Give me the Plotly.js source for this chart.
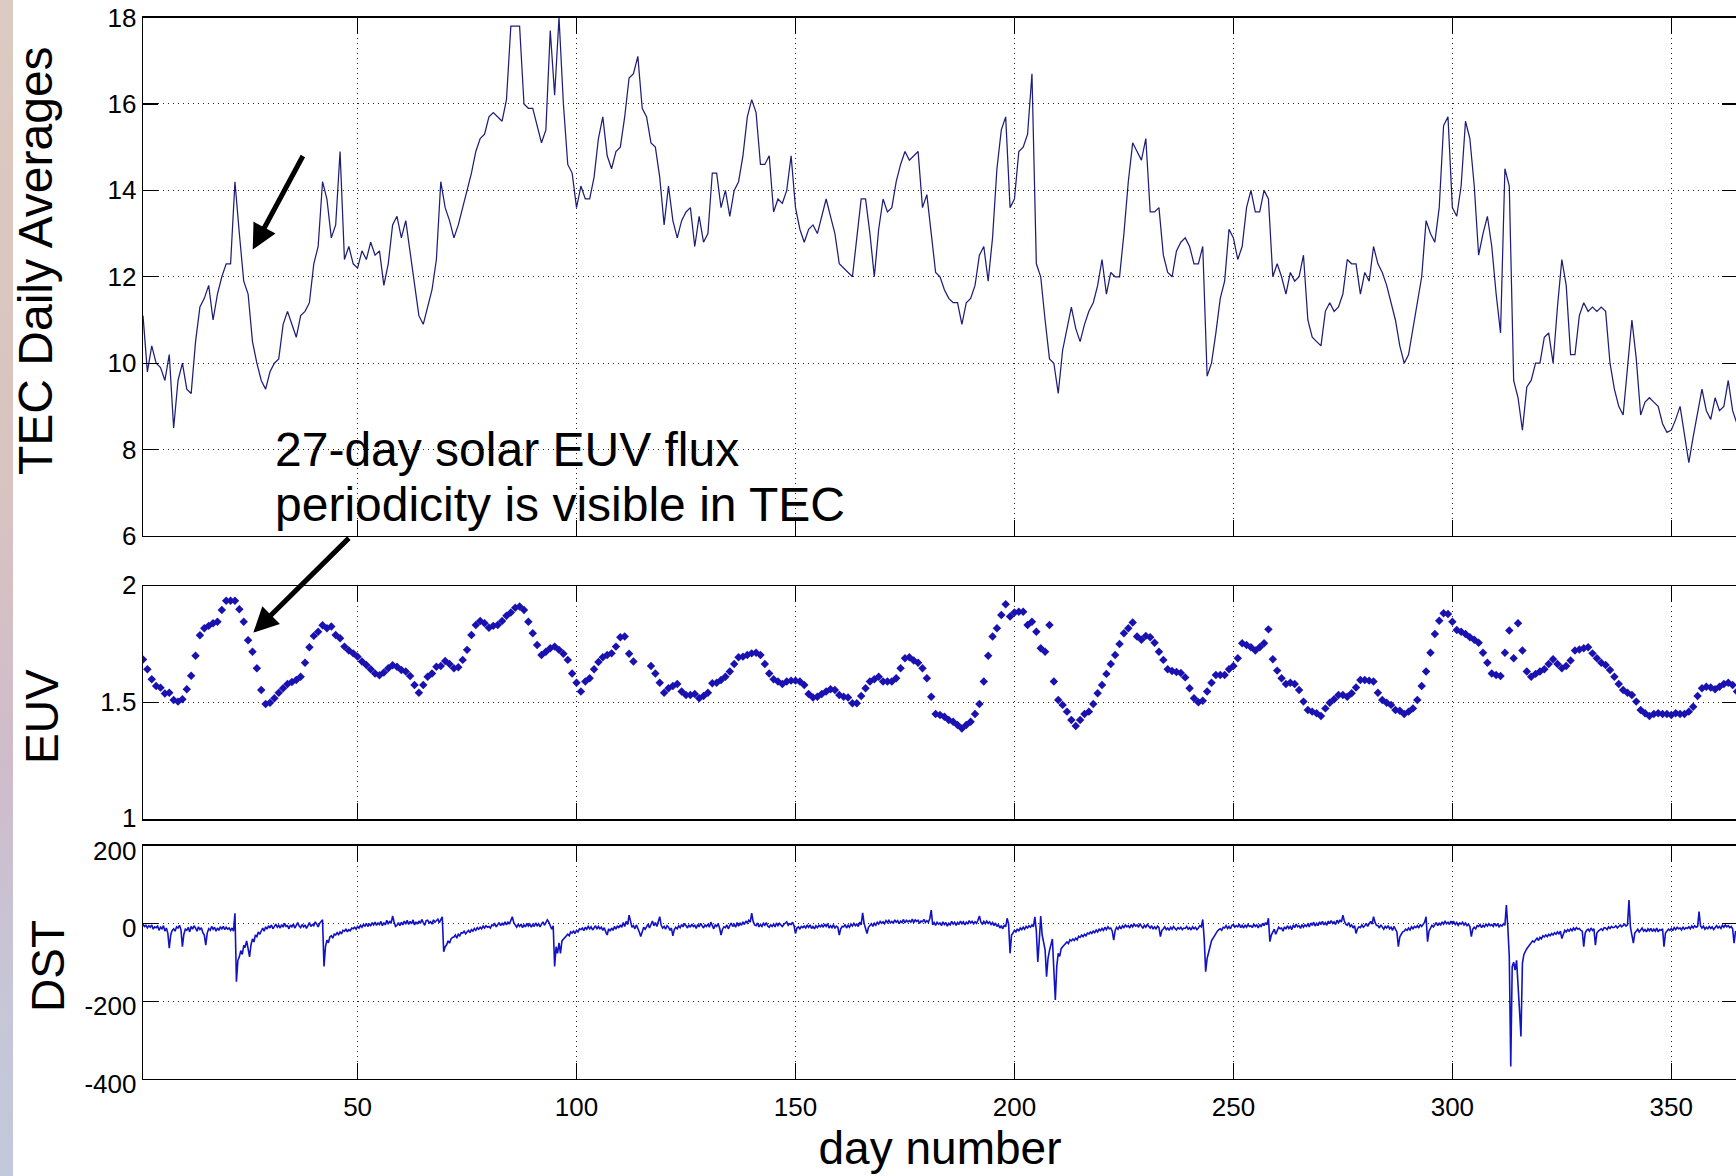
<!DOCTYPE html>
<html>
<head>
<meta charset="utf-8">
<script src="https://cdn.plot.ly/plotly-3.0.1.min.js"></script>
<style>
  html, body { margin: 0; padding: 0; background: #ffffff; overflow: hidden; }
  #chart { position: absolute; left: 0; top: 0; width: 1742px; height: 1176px; }
  #edge {
    position: absolute; left: 0; top: 0; width: 13px; height: 1176px; z-index: 2;
    background: linear-gradient(to bottom, #dccbc0 0%, #d8c4c0 40%, #cfbccb 65%, #c6c6d6 85%, #c2c9da 100%);
  }
</style>
</head>
<body>
<div id="chart"></div>
<div id="edge"></div>
<script>
// Daily TEC averages, days 1..365
const tecDaily = [
  11.1, 9.8, 10.4, 10.0, 9.9, 9.6, 10.2, 8.5, 9.6, 10.0,
  9.4, 9.3, 10.5, 11.3, 11.5, 11.8, 11.0, 11.6, 12.0, 12.3,
  12.3, 14.2, 13.0, 11.9, 11.6, 10.5, 10.0, 9.6, 9.4, 9.8,
  10.0, 10.1, 10.9, 11.2, 10.9, 10.6, 11.1, 11.2, 11.4, 12.3,
  12.7, 14.2, 13.8, 12.9, 13.2, 14.9, 12.4, 12.7, 12.3, 12.2,
  12.6, 12.4, 12.8, 12.5, 12.6, 11.8, 12.3, 13.2, 13.4, 12.9,
  13.3, 12.6, 11.9, 11.1, 10.9, 11.3, 11.7, 12.4, 14.2, 13.6,
  13.3, 12.9, 13.2, 13.6, 14.0, 14.4, 14.9, 15.2, 15.3, 15.7,
  15.8, 15.7, 15.6, 16.1, 17.8, 17.8, 17.8, 16.0, 15.9, 15.9,
  15.5, 15.1, 15.4, 17.7, 16.2, 18.0, 16.0, 14.6, 14.4, 13.6,
  14.1, 13.8, 13.8, 14.3, 15.2, 15.7, 14.8, 14.5, 14.9, 15.0,
  15.7, 16.6, 16.7, 17.1, 15.9, 15.7, 15.1, 15.0, 14.3, 13.2,
  14.1, 13.3, 12.9, 13.3, 13.5, 13.6, 12.7, 13.4, 12.8, 13.0,
  14.4, 14.4, 13.6, 14.0, 13.4, 14.0, 14.2, 14.8, 15.7, 16.1,
  15.8, 14.6, 14.6, 14.8, 13.5, 13.8, 13.7, 14.0, 14.8, 13.6,
  13.1, 12.8, 13.1, 13.2, 13.0, 13.4, 13.8, 13.4, 13.0, 12.3,
  12.2, 12.1, 12.0, 12.9, 13.8, 13.8, 13.0, 12.0, 13.1, 13.8,
  13.5, 13.6, 14.2, 14.6, 14.9, 14.7, 14.8, 14.9, 13.6, 13.9,
  13.0, 12.1, 12.0, 11.7, 11.5, 11.4, 11.4, 10.9, 11.4, 11.5,
  11.8, 12.5, 12.7, 11.9, 12.9, 14.5, 15.4, 15.7, 13.6, 13.8,
  14.9, 15.0, 15.3, 16.7, 12.3, 12.0, 11.0, 10.1, 10.0, 9.3,
  10.3, 10.8, 11.3, 10.8, 10.5, 10.9, 11.2, 11.4, 11.8, 12.4,
  11.6, 12.1, 12.0, 12.0, 13.0, 14.2, 15.1, 14.9, 14.7, 15.2,
  13.5, 13.5, 13.6, 12.5, 12.1, 12.0, 12.6, 12.8, 12.9, 12.7,
  12.3, 12.3, 12.7, 9.7, 10.0, 10.7, 11.5, 11.9, 13.1, 12.9,
  12.4, 12.7, 13.6, 14.0, 13.5, 13.5, 14.0, 13.8, 12.0, 12.3,
  12.0, 11.6, 12.1, 11.9, 12.0, 12.5, 11.0, 10.6, 10.5, 10.4,
  11.2, 11.4, 11.2, 11.3, 11.6, 12.4, 12.3, 12.3, 11.6, 12.1,
  11.9, 12.7, 12.3, 12.1, 11.8, 11.4, 11.0, 10.4, 10.0, 10.2,
  10.8, 11.4, 12.0, 13.3, 13.0, 12.8, 13.6, 15.5, 15.7, 13.6,
  13.4, 14.1, 15.6, 15.2, 14.1, 12.5, 13.0, 13.4, 12.7, 11.6,
  10.7, 14.5, 14.1, 9.6, 9.2, 8.45, 9.45, 9.6, 10.0, 10.0,
  10.6, 10.7, 10.0, 11.3, 12.4, 11.8, 10.2, 10.2, 11.1, 11.4,
  11.2, 11.3, 11.2, 11.3, 11.2, 10.0, 9.4, 9.0, 8.8, 9.9,
  11.0, 10.1, 8.8, 9.1, 9.2, 9.1, 9.0, 8.6, 8.4, 8.45,
  8.7, 9.0, 8.4, 7.7, 8.3, 8.9, 9.4, 8.9, 8.7, 9.2,
  8.9, 9.0, 9.6, 8.9, 8.6
];

// Daily solar EUV flux index, days 1..365 (null = no value)
const euvDaily = [
  1.686, 1.644, 1.601, 1.572, 1.565, 1.540, 1.543, 1.512, 1.505, 1.515,
  1.558, 1.616, 1.702, 1.790, 1.820, 1.830, 1.841, 1.848, 1.898, 1.938,
  1.938, 1.938, 1.901, 1.848, 1.768, 1.719, 1.648, 1.555, 1.495, 1.500,
  1.519, 1.543, 1.562, 1.581, 1.589, 1.598, 1.612, 1.672, 1.738, 1.787,
  1.805, 1.833, 1.820, 1.827, 1.791, 1.777, 1.741, 1.724, 1.712, 1.698,
  1.677, 1.662, 1.644, 1.626, 1.618, 1.630, 1.648, 1.661, 1.655, 1.641,
  1.634, 1.615, 1.576, 1.543, 1.576, 1.612, 1.626, 1.655, 1.658, 1.679,
  1.666, 1.648, 1.652, 1.684, 1.727, 1.791, 1.834, 1.851, 1.841, 1.822,
  1.830, 1.834, 1.851, 1.873, 1.887, 1.908, 1.913, 1.898, 1.848, 1.798,
  1.748, 1.705, 1.719, 1.734, 1.741, 1.727, 1.710, 1.684, 1.626, 1.586,
  1.548, 1.591, 1.605, 1.644, 1.675, 1.695, 1.705, 1.712, 1.741, 1.781,
  1.784, 1.710, 1.677, null, null, null, 1.658, 1.626, 1.586, 1.543,
  1.562, 1.572, 1.581, 1.548, 1.533, 1.533, 1.538, 1.519, 1.529, 1.543,
  1.584, 1.586, 1.598, 1.612, 1.634, 1.666, 1.695, 1.698, 1.705, 1.712,
  1.715, 1.705, 1.666, 1.626, 1.601, 1.591, 1.581, 1.591, 1.595, 1.595,
  1.591, 1.576, 1.538, 1.523, 1.526, 1.538, 1.548, 1.558, 1.555, 1.533,
  1.526, 1.523, 1.498, 1.498, 1.529, 1.562, 1.591, 1.601, 1.612, 1.591,
  1.591, 1.591, 1.605, 1.648, 1.691, 1.695, 1.681, 1.672, 1.648, 1.605,
  1.526, 1.452, 1.448, 1.440, 1.426, 1.419, 1.405, 1.390, 1.405, 1.419,
  1.452, 1.495, 1.591, 1.702, 1.784, 1.820, 1.877, 1.923, 1.870, 1.887,
  1.891, 1.891, 1.834, 1.848, 1.805, 1.734, 1.719, 1.834, 1.591, 1.512,
  1.491, 1.462, 1.426, 1.400, 1.426, 1.452, 1.462, 1.495, 1.541, 1.576,
  1.624, 1.666, 1.705, 1.752, 1.798, 1.820, 1.844, 1.784, 1.770, 1.787,
  1.781, 1.758, 1.719, 1.684, 1.644, 1.636, 1.632, 1.628, 1.609, 1.562,
  1.519, 1.502, 1.509, 1.548, 1.586, 1.619, 1.619, 1.619, 1.644, 1.658,
  1.691, 1.755, 1.748, 1.738, 1.724, 1.738, 1.755, 1.815, 1.687, 1.638,
  1.605, 1.581, 1.586, 1.581, 1.555, 1.505, 1.469, 1.462, 1.455, 1.443,
  1.476, 1.500, 1.515, 1.533, 1.533, 1.526, 1.541, 1.566, 1.598, 1.598,
  1.595, 1.591, 1.543, 1.512, 1.500, 1.491, 1.469, 1.466, 1.452, 1.462,
  1.476, 1.512, 1.572, 1.634, 1.715, 1.795, 1.852, 1.884, 1.881, 1.848,
  1.812, 1.805, 1.795, 1.781, 1.770, 1.758, 1.715, 1.672, 1.626, 1.619,
  1.615, 1.715, 1.810, 1.691, 1.841, 1.724, 1.634, 1.612, 1.624, 1.634,
  1.644, 1.666, 1.687, 1.666, 1.648, 1.658, 1.681, 1.724, 1.729, 1.734,
  1.738, 1.712, 1.691, 1.672, 1.662, 1.641, 1.612, 1.581, 1.555, 1.543,
  1.533, 1.505, 1.469, 1.455, 1.443, 1.452, 1.455, 1.452, 1.452, 1.448,
  1.455, 1.452, 1.452, 1.462, 1.483, 1.529, 1.562, 1.569, 1.566, 1.558,
  1.569, 1.581, 1.586, 1.576, 1.548
];

// Dst index, three samples per day (00, 08, 16 h), one array per month
const dstJan = [-2,-8,-5, -12,-6,-10, -4,-15,-9, -11,-7,-18, -10,-14,-6, -20,-12,-25, -64,-30,-18, -14,-20,-9, -12,-5,-16, -60,-28,-15, -18,-10,-22, -8,-15,-6, -12,-20,-9, -16,-11,-24, -30,-56,-25, -14,-18,-8, -15,-10,-20, -12,-18,-9, -14,-8,-16, -10,-15,-12, -18,-12,-20, 26,-150,-95, -86,-70,-80, -58,-60,-45, -65,-86,-55, -40,-48,-30, -34,-22,-28, -18,-12,-20, -9,-15,-6, -12,-4,-14, -8,-2,-10];
const dstFeb = [-5,-12,-3, -10,0,-8, -6,-14,-4, -9,-2,-12, -5,2,-7, -11,-3,-9, -4,-13,-6, 2,-8,-3, -6,4,-2, -9,0,5, 9,-111,-60, -43,-50,-35, -32,-38,-28, -30,-24,-29, -22,-27,-18, -20,-14,-22, -16,-19,-12, -14,-10,-15, -8,-12,-5, -10,-3,-7, 0,-8,-2, -6,2,-4, 3,-5,1, -3,5,-6, 2,-4,8, -2,6,0, 19,4,-8, -5,2,-6];
const dstMar = [3,-4,6, -2,8,-3, 5,-1,9, -4,4,-2, 6,0,10, 2,-5,7, 8,1,4, -2,9,3, 6,11,2, 8,17,-73, -60,-55,-45, -51,-40,-36, -35,-30,-38, -28,-32,-24, -25,-20,-27, -22,-18,-24, -16,-20,-13, -18,-11,-15, -10,-14,-7, -12,-6,-10, -8,-12,-4, -6,-1,-9, -3,2,-6, 0,-5,4, -4,3,-2, 6,17,2, -6,-10,-3, -8,-2,-11, -4,-9,0, -7,-2,-10, -3,-8,1];
const dstApr = [-6,-1,-9, -2,4,-5, 2,9,3, -8,-15,-6, -111,-60,-77, -50,-77,-45, -40,-35,-30, -28,-32,-22, -25,-20,-26, -18,-22,-14, -16,-12,-19, -10,-15,-8, -14,-9,-17, -12,-6,-15, -8,-14,-10, -18,-11,-22, -30,-14,-20, -12,-18,-8, -15,-6,-12, -4,-10,2, -8,5,-3, 21,2,-10, -6,-14,-4, -12,-22,-34, -18,-10,-15, -8,-2,-12, -4,6,-6, 2,-8,4, 17,-5,-12, -8,-15,-6];
const dstMay = [-10,-18,-12, -32,-16,-10, -14,-6,-11, -3,-9,0, -7,-12,-4, -10,-2,-8, -5,-13,-3, -9,0,-6, -12,-4,-8, -2,-10,3, -6,-14,-4, -8,-1,-12, -30,-15,-9, -11,-4,-14, -6,1,-8, -3,-10,2, -7,0,-5, 4,-3,6, 1,8,3, 26,5,-4, -6,1,-9, -3,-8,0, -5,2,-7, -10,-4,-8, -2,-9,1, -6,0,-4, -8,-3,2, 4,-5,-1, -3,3,-6, -26,-12,-9, -14,-8,-11];
const dstJun = [-7,-12,-5, -10,-4,-13, -8,-14,-6, -11,-5,-9, -4,-10,-2, -8,-1,-12, -6,-11,-3, -13,-7,-10, -30,-14,-8, -9,-3,-12, -5,-10,-2, -7,0,-6, -2,-8,3, -4,27,0, -12,-26,-10, -6,-1,-8, 0,-5,3, -2,5,0, 4,-1,7, 2,8,1, 5,0,9, 3,7,-1, 6,2,10, 1,8,4, 7,3,11, 2,9,5, 8,0,6, 4,10,2, 7,3,12, 34,-4,2];
const dstJul = [-5,3,-2, 1,-6,4, -3,2,-7, 0,-4,5, -2,3,-5, 2,-3,6, -1,4,-4, 3,-2,7, 1,5,-1, 4,0,8, 19,3,-2, 5,-1,6, 0,4,-3, 2,-6,1, -8,-3,-12, -6,-14,-4, -9,13,-2, -77,-30,-25, -18,-22,-14, -20,-12,-16, -10,-15,-8, -12,-6,-10, -4,-9,17, -20,-99,-45, 19,-30,-50, -68,-137,-90, -70,-56,-40, -120,-197,-110, -77,-85,-65, -60,-55,-50, -48,-52,-42];
const dstAug = [-45,-40,-44, -38,-42,-33, -36,-30,-34, -28,-32,-25, -27,-22,-26, -20,-24,-17, -22,-15,-19, -13,-18,-10, -16,-9,-14, -12,-20,-43, -18,-10,-15, -8,-14,-6, -11,-4,-9, -6,-12,-3, -9,-2,-7, -4,-10,-1, -7,-13,-5, -10,-3,-8, -12,-6,-15, -9,-14,-7, -11,-34,-18, -14,-9,-16, -12,-18,-10, -15,-8,-13, -17,-11,-14, -10,-16,-12, -13,-8,-15, -11,-17,-9, -14,-10,-16, -12,-6,-9, 10,-40,-124];
const dstSep = [-90,-70,-60, -45,-38,-30, -25,-20,-16, -14,-18,-10, -12,-6,-13, -8,-14,-5, -3,-10,-6, -9,-2,-11, -5,-12,-4, -10,-3,-8, -6,-11,-2, -8,-4,-12, -3,-9,0, -6,2,-4, 13,-47,-30, -22,-15,-28, -18,-10,-14, -12,-20,-9, -15,-6,-13, -8,-16,-4, -11,-2,-9, -6,-13,-3, -10,-4,-8, -2,-9,1, -5,3,-7, 0,-6,4, -3,5,-4, 2,-5,6, -1,7,0, 4,-3,8];
const dstOct = [1,9,3, 21,6,-2, -5,2,-8, -4,-12,-6, -26,-14,-9, -11,-4,-10, -6,0,-8, -3,5,-2, 17,3,-5, -6,-12,-4, -9,-15,-8, -12,-6,-14, -10,-18,-8, -14,-22,-60, -35,-28,-22, -20,-15,-18, -12,-17,-9, -14,-8,-11, -6,-12,-3, -8,-2,3, 17,-47,-20, -12,-5,-9, -3,2,-6, 0,-4,4, -2,5,-1, 3,-3,6, -1,4,-3, 2,-5,1, -2,3,-4, 1,-6,-2, -8,-34,-15];
const dstNov = [-10,-14,-6, -8,-3,-11, -5,-9,-2, -7,-1,-6, -3,-8,0, -6,-2,-9, -4,-7,-1, -5,47,-10, -86,-368,-111, -100,-120,-95, -150,-223,-291, -103,-80,-70, -65,-60,-55, -50,-45,-48, -42,-38,-44, -36,-40,-32, -35,-30,-34, -28,-32,-26, -30,-24,-28, -22,-27,-20, -39,-25,-18, -22,-16,-20, -14,-19,-12, -17,-11,-15, -13,-18,-20, -60,-25,-18, -15,-20,-12, -18,-14,-56, -25,-20,-16, -14,-18,-11];
const dstDec = [-12,-16,-9, -13,-8,-11, -10,-6,-12, -8,-4,-9, -6,-2,-7, -4,60,-10, -30,-51,-25, -20,-15,-22, -18,-12,-20, -16,-22,-14, -19,-13,-21, -15,-20,-12, -22,-16,-18, -14,-60,-25, -20,-15,-18, -13,-19,-11, -16,-10,-14, -12,-17,-9, -15,-11,-13, -9,-14,-7, -12,-6,-10, -8,30,-6, -12,-7,-15, -10,-14,-8, -13,-9,-16, -11,-6,-12, -8,-13,-5, -10,-4,-9, -6,-11,-8, -14,-51,-20, -25,-18,-15];

const dayTicks = [50, 100, 150, 200, 250, 300, 350];
const tecTicks = [6, 8, 10, 12, 14, 16, 18];
const euvTicks = [1, 1.5, 2];
const dstTicks = [-400, -200, 0, 200];
const dstTickText = ['-400', '-200', '0', '200'];

const SAMPLES_PER_DAY = 3;
const dstAll = [].concat(dstJan, dstFeb, dstMar, dstApr, dstMay, dstJun,
                         dstJul, dstAug, dstSep, dstOct, dstNov, dstDec);
const dstDays = dstAll.map((_, i) => 1 + i / SAMPLES_PER_DAY);
const tecDays = tecDaily.map((_, i) => i + 1);
const euvDays = euvDaily.map((_, i) => i + 1);

const FONT = 'Liberation Sans, Arial, Helvetica, sans-serif';
const W = 1742, H = 1176, ML = 143, MR = 5;
const PW = W - ML - MR;

const traces = [
  { x: tecDays, y: tecDaily, type: 'scatter', mode: 'lines', xaxis: 'x', yaxis: 'y',
    line: { color: '#1e1e78', width: 1.25 }, hoverinfo: 'x+y' },
  { x: euvDays, y: euvDaily, type: 'scatter', mode: 'markers', xaxis: 'x2', yaxis: 'y2',
    marker: { symbol: 'diamond', size: 6.5, color: '#1a12b0', line: { width: 0 } }, hoverinfo: 'x+y' },
  { x: dstDays, y: dstAll, type: 'scatter', mode: 'lines', xaxis: 'x3', yaxis: 'y3',
    line: { color: '#1212c4', width: 1.6 }, hoverinfo: 'x+y' }
];

function xAxis(anchor, labels) {
  return {
    anchor: anchor, range: [1, 365], tickvals: dayTicks, ticks: 'inside', ticklen: 16,
    tickwidth: 1.3, tickcolor: '#000', showline: true, linecolor: '#000', linewidth: 1.3,
    mirror: 'ticks', showgrid: true, gridcolor: '#222', gridwidth: 1, griddash: '1px,4px',
    zeroline: false, showticklabels: labels, ticklabelstandoff: 5,
    tickfont: { family: FONT, size: 26, color: '#000' }
  };
}
function yAxis(anchor, domain, range, ticks, text, shift) {
  const ax = {
    anchor: anchor, domain: domain, range: range, tickvals: ticks, ticks: 'inside', ticklen: 15,
    tickwidth: 1.3, tickcolor: '#000', showline: true, linecolor: '#000', linewidth: 1.3,
    mirror: 'ticks', showgrid: true, gridcolor: '#222', gridwidth: 1, griddash: '1px,4px',
    zeroline: false, ticklabelstandoff: 0, ticklabelshift: shift || 0,
    tickfont: { family: FONT, size: 26, color: '#000' }
  };
  if (text) ax.ticktext = text;
  return ax;
}

// panel titles placed beside each y axis (pixel centre -> paper coords)
function sideTitle(text, cx, cy, size) {
  return { xref: 'paper', yref: 'paper', x: (cx - ML) / PW, y: 1 - cy / H,
           xanchor: 'center', yanchor: 'middle', textangle: -90, showarrow: false,
           text: text, font: { family: FONT, size: size, color: '#000' } };
}

const xa3 = xAxis('y3', true);
xa3.title = { text: 'day number', font: { family: FONT, size: 46, color: '#000' }, standoff: 6 };

const layout = {
  width: W, height: H,
  margin: { l: ML, r: MR, t: 0, b: 0 },
  paper_bgcolor: 'rgba(0,0,0,0)', plot_bgcolor: '#ffffff',
  showlegend: false,
  font: { family: FONT, color: '#000' },
  xaxis: xAxis('y', false),
  xaxis2: xAxis('y2', false),
  xaxis3: xa3,
  yaxis: yAxis('x', [0.5442, 0.9851], [6, 18], tecTicks),
  yaxis2: yAxis('x2', [0.3033, 0.5015], [1, 2], euvTicks, null, -1),
  yaxis3: yAxis('x3', [0.0825, 0.2810], [-400, 200], dstTicks, dstTickText, 5),
  annotations: [
    sideTitle('TEC Daily Averages', 36, 261, 48),
    sideTitle('EUV', 42, 717, 46),
    sideTitle('DST', 48, 966, 46),
    { xref: 'paper', yref: 'paper', x: (273 - ML) / PW, y: 0.5935, xanchor: 'left', yanchor: 'bottom',
      text: '27-day solar EUV flux', showarrow: false,
      font: { family: FONT, size: 48, color: '#000' } },
    { xref: 'paper', yref: 'paper', x: (273 - ML) / PW, y: 0.5468, xanchor: 'left', yanchor: 'bottom',
      text: 'periodicity is visible in TEC', showarrow: false,
      font: { family: FONT, size: 48, color: '#000' } },
    { xref: 'x', yref: 'y', x: 26.05, y: 12.63, ax: 51, ay: -95, text: '',
      showarrow: true, arrowhead: 2, arrowsize: 1, arrowwidth: 5, arrowcolor: '#000' },
    { xref: 'x2', yref: 'y2', x: 26.2, y: 1.801, ax: 97, ay: -96, text: '',
      showarrow: true, arrowhead: 2, arrowsize: 1, arrowwidth: 5, arrowcolor: '#000' }
  ]
};

Plotly.newPlot('chart', traces, layout, { staticPlot: true, displayModeBar: false });
</script>
</body>
</html>
